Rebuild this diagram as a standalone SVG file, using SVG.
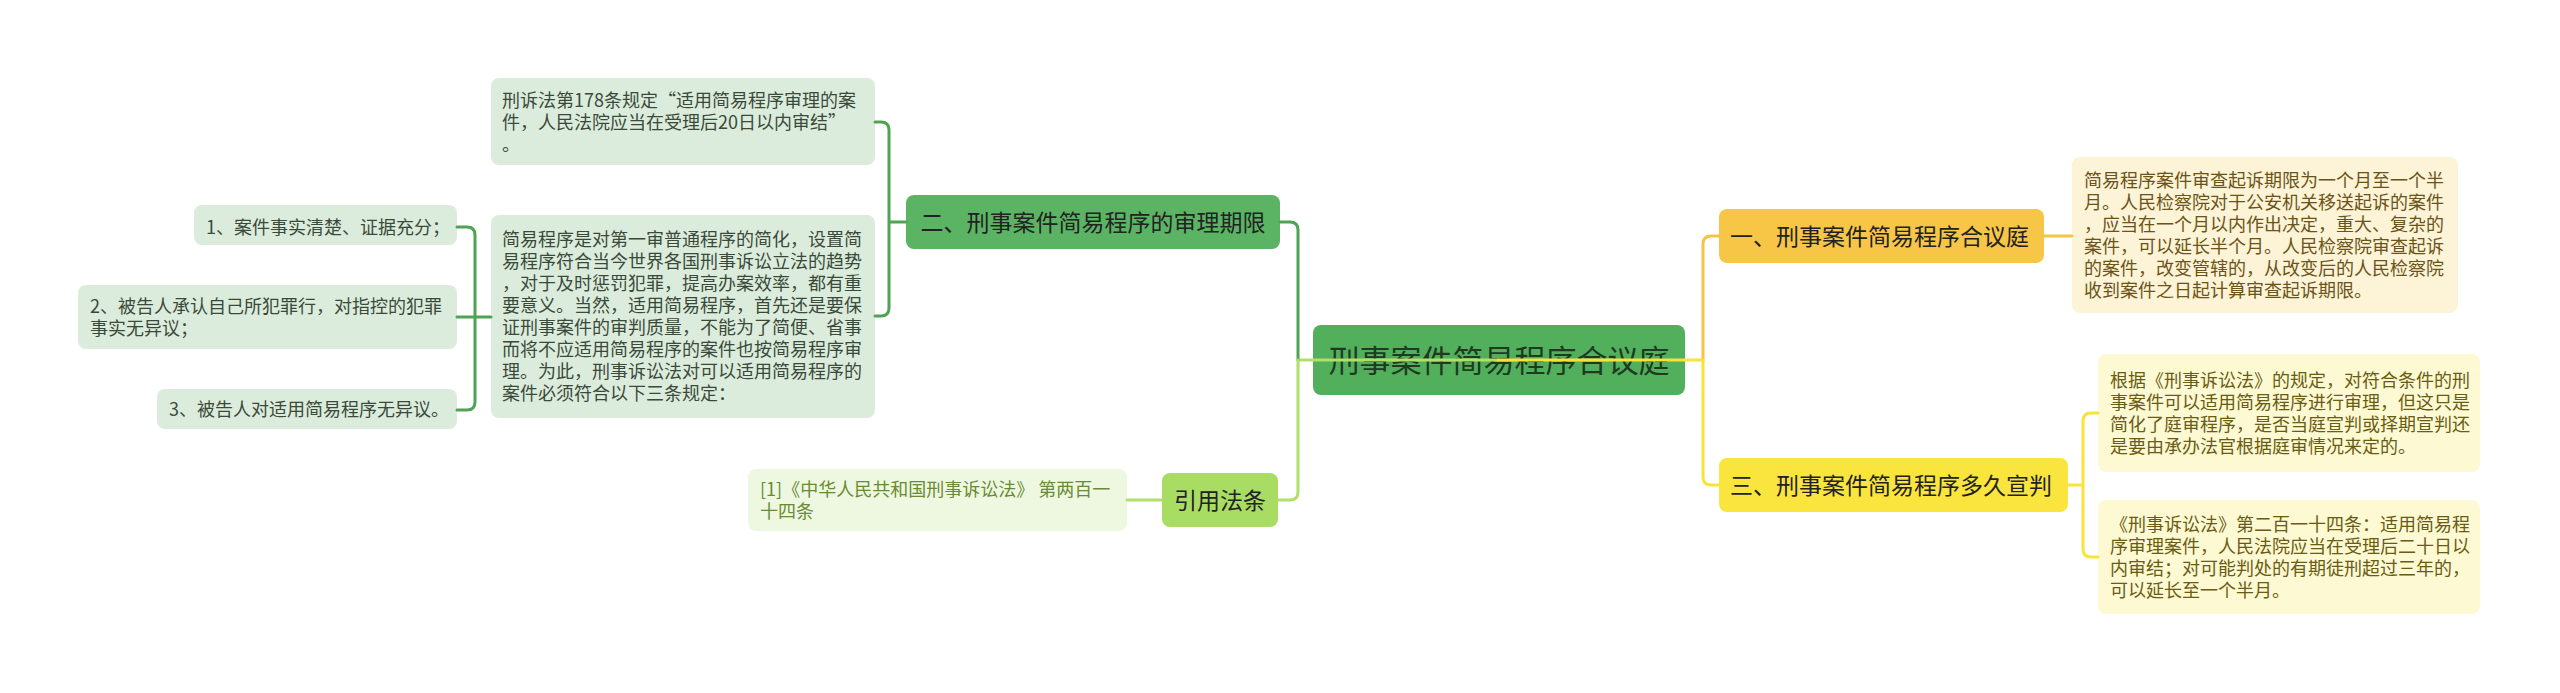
<svg xmlns="http://www.w3.org/2000/svg" width="2560" height="693" viewBox="0 0 2560 693">
<style>
text { font-family: "Noto Sans CJK SC", "Liberation Sans", sans-serif; }
.s { font-size: 18px; }
.m { font-size: 23px; fill: #222; }
.r { font-size: 31px; fill: #1e3a20; }
.lg { fill: #dcecdc; }
.lgt { fill: #3a4a3a; }
.cy { fill: #fdf3d6; }
.cyt { fill: #6b5416; }
.ly { fill: #fdf9d2; }
.lyt { fill: #6a5c12; }
.c { fill: none; stroke-width: 3; stroke-linecap: round; }
.cg { stroke: #4ea455; }
.cl { stroke: #b0e06a; }
.co { stroke: #f5c444; }
.cyw { stroke: #f7e43a; }
</style>
<rect width="2560" height="693" fill="#ffffff"/>

<g id="root">
<rect x="1313" y="325" width="372" height="70" rx="8" fill="#52b05c"/>
<text class="r" x="1499" y="372" text-anchor="middle">刑事案件简易程序合议庭</text>
</g>

<g id="n2">
<rect x="906" y="195" width="374" height="54" rx="8" fill="#5bb464"/>
<text class="m" x="1093" y="231" text-anchor="middle">二、刑事案件简易程序的审理期限</text>
</g>

<g id="n2-a">
<rect class="lg" x="491" y="78" width="384" height="87" rx="8"/>
<text class="s lgt"><tspan x="502" y="107">刑诉法第178条规定“适用简易程序审理的案</tspan><tspan x="502" y="129">件，人民法院应当在受理后20日以内审结”</tspan><tspan x="502" y="151">。</tspan></text>
</g>

<g id="n2-b">
<rect class="lg" x="491" y="215" width="384" height="203" rx="8"/>
<text class="s lgt"><tspan x="502" y="246">简易程序是对第一审普通程序的简化，设置简</tspan><tspan x="502" y="268">易程序符合当今世界各国刑事诉讼立法的趋势</tspan><tspan x="502" y="290">，对于及时惩罚犯罪，提高办案效率，都有重</tspan><tspan x="502" y="312">要意义。当然，适用简易程序，首先还是要保</tspan><tspan x="502" y="334">证刑事案件的审判质量，不能为了简便、省事</tspan><tspan x="502" y="356">而将不应适用简易程序的案件也按简易程序审</tspan><tspan x="502" y="378">理。为此，刑事诉讼法对可以适用简易程序的</tspan><tspan x="502" y="400">案件必须符合以下三条规定：</tspan></text>
</g>

<g id="item1">
<rect class="lg" x="194" y="205" width="263" height="40" rx="8"/>
<text class="s lgt" x="206" y="234">1、案件事实清楚、证据充分；</text>
</g>

<g id="item2">
<rect class="lg" x="78" y="285" width="379" height="64" rx="8"/>
<text class="s lgt"><tspan x="90" y="313">2、被告人承认自己所犯罪行，对指控的犯罪</tspan><tspan x="90" y="335">事实无异议；</tspan></text>
</g>

<g id="item3">
<rect class="lg" x="157" y="389" width="300" height="40" rx="8"/>
<text class="s lgt" x="169" y="416">3、被告人对适用简易程序无异议。</text>
</g>

<g id="cite">
<rect x="1162" y="473" width="116" height="54" rx="8" fill="#a9dc62"/>
<text class="m" x="1220" y="509" text-anchor="middle">引用法条</text>
</g>

<g id="cite-a">
<rect x="748" y="469" width="379" height="62" rx="8" fill="#eef8e0"/>
<text class="s" fill="#6a8a36"><tspan x="760" y="496">[1]《中华人民共和国刑事诉讼法》 第两百一</tspan><tspan x="760" y="518">十四条</tspan></text>
</g>

<g id="n1">
<rect x="1719" y="209" width="325" height="54" rx="8" fill="#f7c646"/>
<text class="m" x="1730" y="245">一、刑事案件简易程序合议庭</text>
</g>

<g id="n1-a">
<rect class="cy" x="2072" y="157" width="386" height="156" rx="8"/>
<text class="s cyt"><tspan x="2084" y="187">简易程序案件审查起诉期限为一个月至一个半</tspan><tspan x="2084" y="209">月。人民检察院对于公安机关移送起诉的案件</tspan><tspan x="2084" y="231">，应当在一个月以内作出决定，重大、复杂的</tspan><tspan x="2084" y="253">案件，可以延长半个月。人民检察院审查起诉</tspan><tspan x="2084" y="275">的案件，改变管辖的，从改变后的人民检察院</tspan><tspan x="2084" y="297">收到案件之日起计算审查起诉期限。</tspan></text>
</g>

<g id="n3">
<rect x="1719" y="458" width="349" height="54" rx="8" fill="#fae53e"/>
<text class="m" x="1730" y="494">三、刑事案件简易程序多久宣判</text>
</g>

<g id="n3-a">
<rect class="ly" x="2098" y="354" width="382" height="118" rx="8"/>
<text class="s lyt"><tspan x="2110" y="387">根据《刑事诉讼法》的规定，对符合条件的刑</tspan><tspan x="2110" y="409">事案件可以适用简易程序进行审理，但这只是</tspan><tspan x="2110" y="431">简化了庭审程序，是否当庭宣判或择期宣判还</tspan><tspan x="2110" y="453">是要由承办法官根据庭审情况来定的。</tspan></text>
</g>

<g id="n3-b">
<rect class="ly" x="2098" y="500" width="382" height="114" rx="8"/>
<text class="s lyt"><tspan x="2110" y="531">《刑事诉讼法》第二百一十四条：适用简易程</tspan><tspan x="2110" y="553">序审理案件，人民法院应当在受理后二十日以</tspan><tspan x="2110" y="575">内审结；对可能判处的有期徒刑超过三年的，</tspan><tspan x="2110" y="597">可以延长至一个半月。</tspan></text>
</g>

<g id="connectors">
<path class="c cl" d="M1498 360 H1298"/>
<path class="c cyw" d="M1498 360 H1703"/>
<path class="c cg" d="M1298 360 V230 Q1298 222 1290 222 H1280"/>
<path class="c cl" d="M1298 360 V492 Q1298 500 1290 500 H1278"/>
<path class="c cl" d="M1162 500 H1127"/>
<path class="c cg" d="M906 222 H889 M889 222 V130 Q889 122 881 122 H875 M889 222 V308 Q889 316 881 316 H875"/>
<path class="c cg" d="M491 317 H457 M475 317 V235 Q475 227 467 227 H457 M475 317 V402 Q475 410 467 410 H457"/>
<path class="c co" d="M1703 360 V244 Q1703 236 1711 236 H1719"/>
<path class="c cyw" d="M1703 360 V477 Q1703 485 1711 485 H1719"/>
<path class="c co" d="M2044 236 H2072"/>
<path class="c cyw" d="M2068 485 H2083 M2083 485 V421 Q2083 413 2091 413 H2098 M2083 485 V549 Q2083 557 2091 557 H2098"/>
</g>
</svg>
